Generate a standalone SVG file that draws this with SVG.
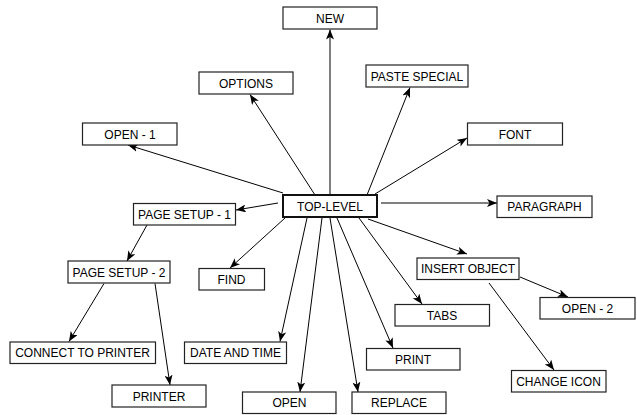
<svg xmlns="http://www.w3.org/2000/svg" width="637" height="415" viewBox="0 0 637 415">
<style>
.box{fill:#fff;stroke:#222;stroke-width:1.2}
.top{fill:#fff;stroke:#111;stroke-width:2}
.lbl{font-family:"Liberation Sans",Arial,sans-serif;font-size:12px;fill:#000;text-anchor:middle}
.edge{stroke:#000;stroke-width:1;fill:none;marker-end:url(#ah)}
</style>
<defs>
<marker id="ah" viewBox="0 0 10 8" refX="10" refY="4" markerWidth="10" markerHeight="8" markerUnits="userSpaceOnUse" orient="auto">
<path d="M0,0 L10,4 L0,8 L2.5,4 z" fill="#000"/>
</marker>
</defs>
<rect width="637" height="415" fill="#fff"/>
<g id="connectors">
<line class="edge" x1="330" y1="195" x2="330" y2="29.5"/>
<line class="edge" x1="315" y1="195" x2="250" y2="94.5"/>
<line class="edge" x1="283" y1="193" x2="128" y2="145"/>
<line class="edge" x1="367" y1="195" x2="410" y2="87.5"/>
<line class="edge" x1="375" y1="194" x2="467" y2="138"/>
<line class="edge" x1="381" y1="203" x2="497" y2="203"/>
<line class="edge" x1="278" y1="203" x2="236" y2="210"/>
<line class="edge" x1="147" y1="225" x2="127" y2="261"/>
<line class="edge" x1="285" y1="218" x2="230" y2="268"/>
<line class="edge" x1="104" y1="283.5" x2="69" y2="341.5"/>
<line class="edge" x1="155" y1="283.5" x2="170" y2="385"/>
<line class="edge" x1="307" y1="218" x2="280" y2="341.5"/>
<line class="edge" x1="322" y1="218" x2="300" y2="392"/>
<line class="edge" x1="330" y1="218" x2="358" y2="392"/>
<line class="edge" x1="337" y1="218" x2="393" y2="348"/>
<line class="edge" x1="359" y1="218" x2="422" y2="304"/>
<line class="edge" x1="368" y1="219" x2="467" y2="254"/>
<line class="edge" x1="520" y1="277" x2="568" y2="297"/>
<line class="edge" x1="489" y1="283" x2="554" y2="370"/>
</g>
<g id="top-level"><rect class="top" x="283" y="195" width="94" height="22"/><text class="lbl" x="330" y="210.5">TOP-LEVEL</text></g>
<g id="new"><rect class="box" x="283" y="7" width="94" height="22"/><text class="lbl" x="330" y="22.5">NEW</text></g>
<g id="options"><rect class="box" x="199" y="72" width="94" height="22"/><text class="lbl" x="246" y="87.5">OPTIONS</text></g>
<g id="open-1"><rect class="box" x="82.5" y="123" width="94.5" height="22"/><text class="lbl" x="130" y="138.5">OPEN - 1</text></g>
<g id="paste-special"><rect class="box" x="366" y="65" width="102" height="22"/><text class="lbl" x="417" y="80.5">PASTE SPECIAL</text></g>
<g id="font"><rect class="box" x="467.5" y="123" width="95" height="22"/><text class="lbl" x="515" y="138.5">FONT</text></g>
<g id="paragraph"><rect class="box" x="497" y="196" width="95" height="21.5"/><text class="lbl" x="544.5" y="211">PARAGRAPH</text></g>
<g id="page-setup-1"><rect class="box" x="133.5" y="203.5" width="102" height="21.5"/><text class="lbl" x="184.5" y="218.5">PAGE SETUP - 1</text></g>
<g id="page-setup-2"><rect class="box" x="68" y="261" width="102" height="22"/><text class="lbl" x="119" y="276.5">PAGE SETUP - 2</text></g>
<g id="find"><rect class="box" x="199" y="268.5" width="65.5" height="21.5"/><text class="lbl" x="231.5" y="283.5">FIND</text></g>
<g id="connect-to-printer"><rect class="box" x="10" y="342" width="145.5" height="21.5"/><text class="lbl" x="82.5" y="357">CONNECT TO PRINTER</text></g>
<g id="printer"><rect class="box" x="112" y="385" width="94" height="22"/><text class="lbl" x="159" y="400.5">PRINTER</text></g>
<g id="date-and-time"><rect class="box" x="184.5" y="342" width="102" height="21.5"/><text class="lbl" x="235.5" y="357">DATE AND TIME</text></g>
<g id="open"><rect class="box" x="242.5" y="392" width="93.5" height="21.5"/><text class="lbl" x="289.5" y="407">OPEN</text></g>
<g id="replace"><rect class="box" x="352" y="392" width="94" height="21.5"/><text class="lbl" x="399" y="407">REPLACE</text></g>
<g id="print"><rect class="box" x="366.5" y="348.5" width="93.5" height="21.5"/><text class="lbl" x="413" y="363.5">PRINT</text></g>
<g id="tabs"><rect class="box" x="395" y="304.5" width="94.5" height="21.5"/><text class="lbl" x="442" y="319.5">TABS</text></g>
<g id="insert-object"><rect class="box" x="417" y="258" width="102" height="21.5"/><text class="lbl" x="468" y="273">INSERT OBJECT</text></g>
<g id="open-2"><rect class="box" x="540" y="297.5" width="95" height="21.5"/><text class="lbl" x="587.5" y="312.5">OPEN - 2</text></g>
<g id="change-icon"><rect class="box" x="511.5" y="370.5" width="94.5" height="21.5"/><text class="lbl" x="558.5" y="385.5">CHANGE ICON</text></g>
</svg>
